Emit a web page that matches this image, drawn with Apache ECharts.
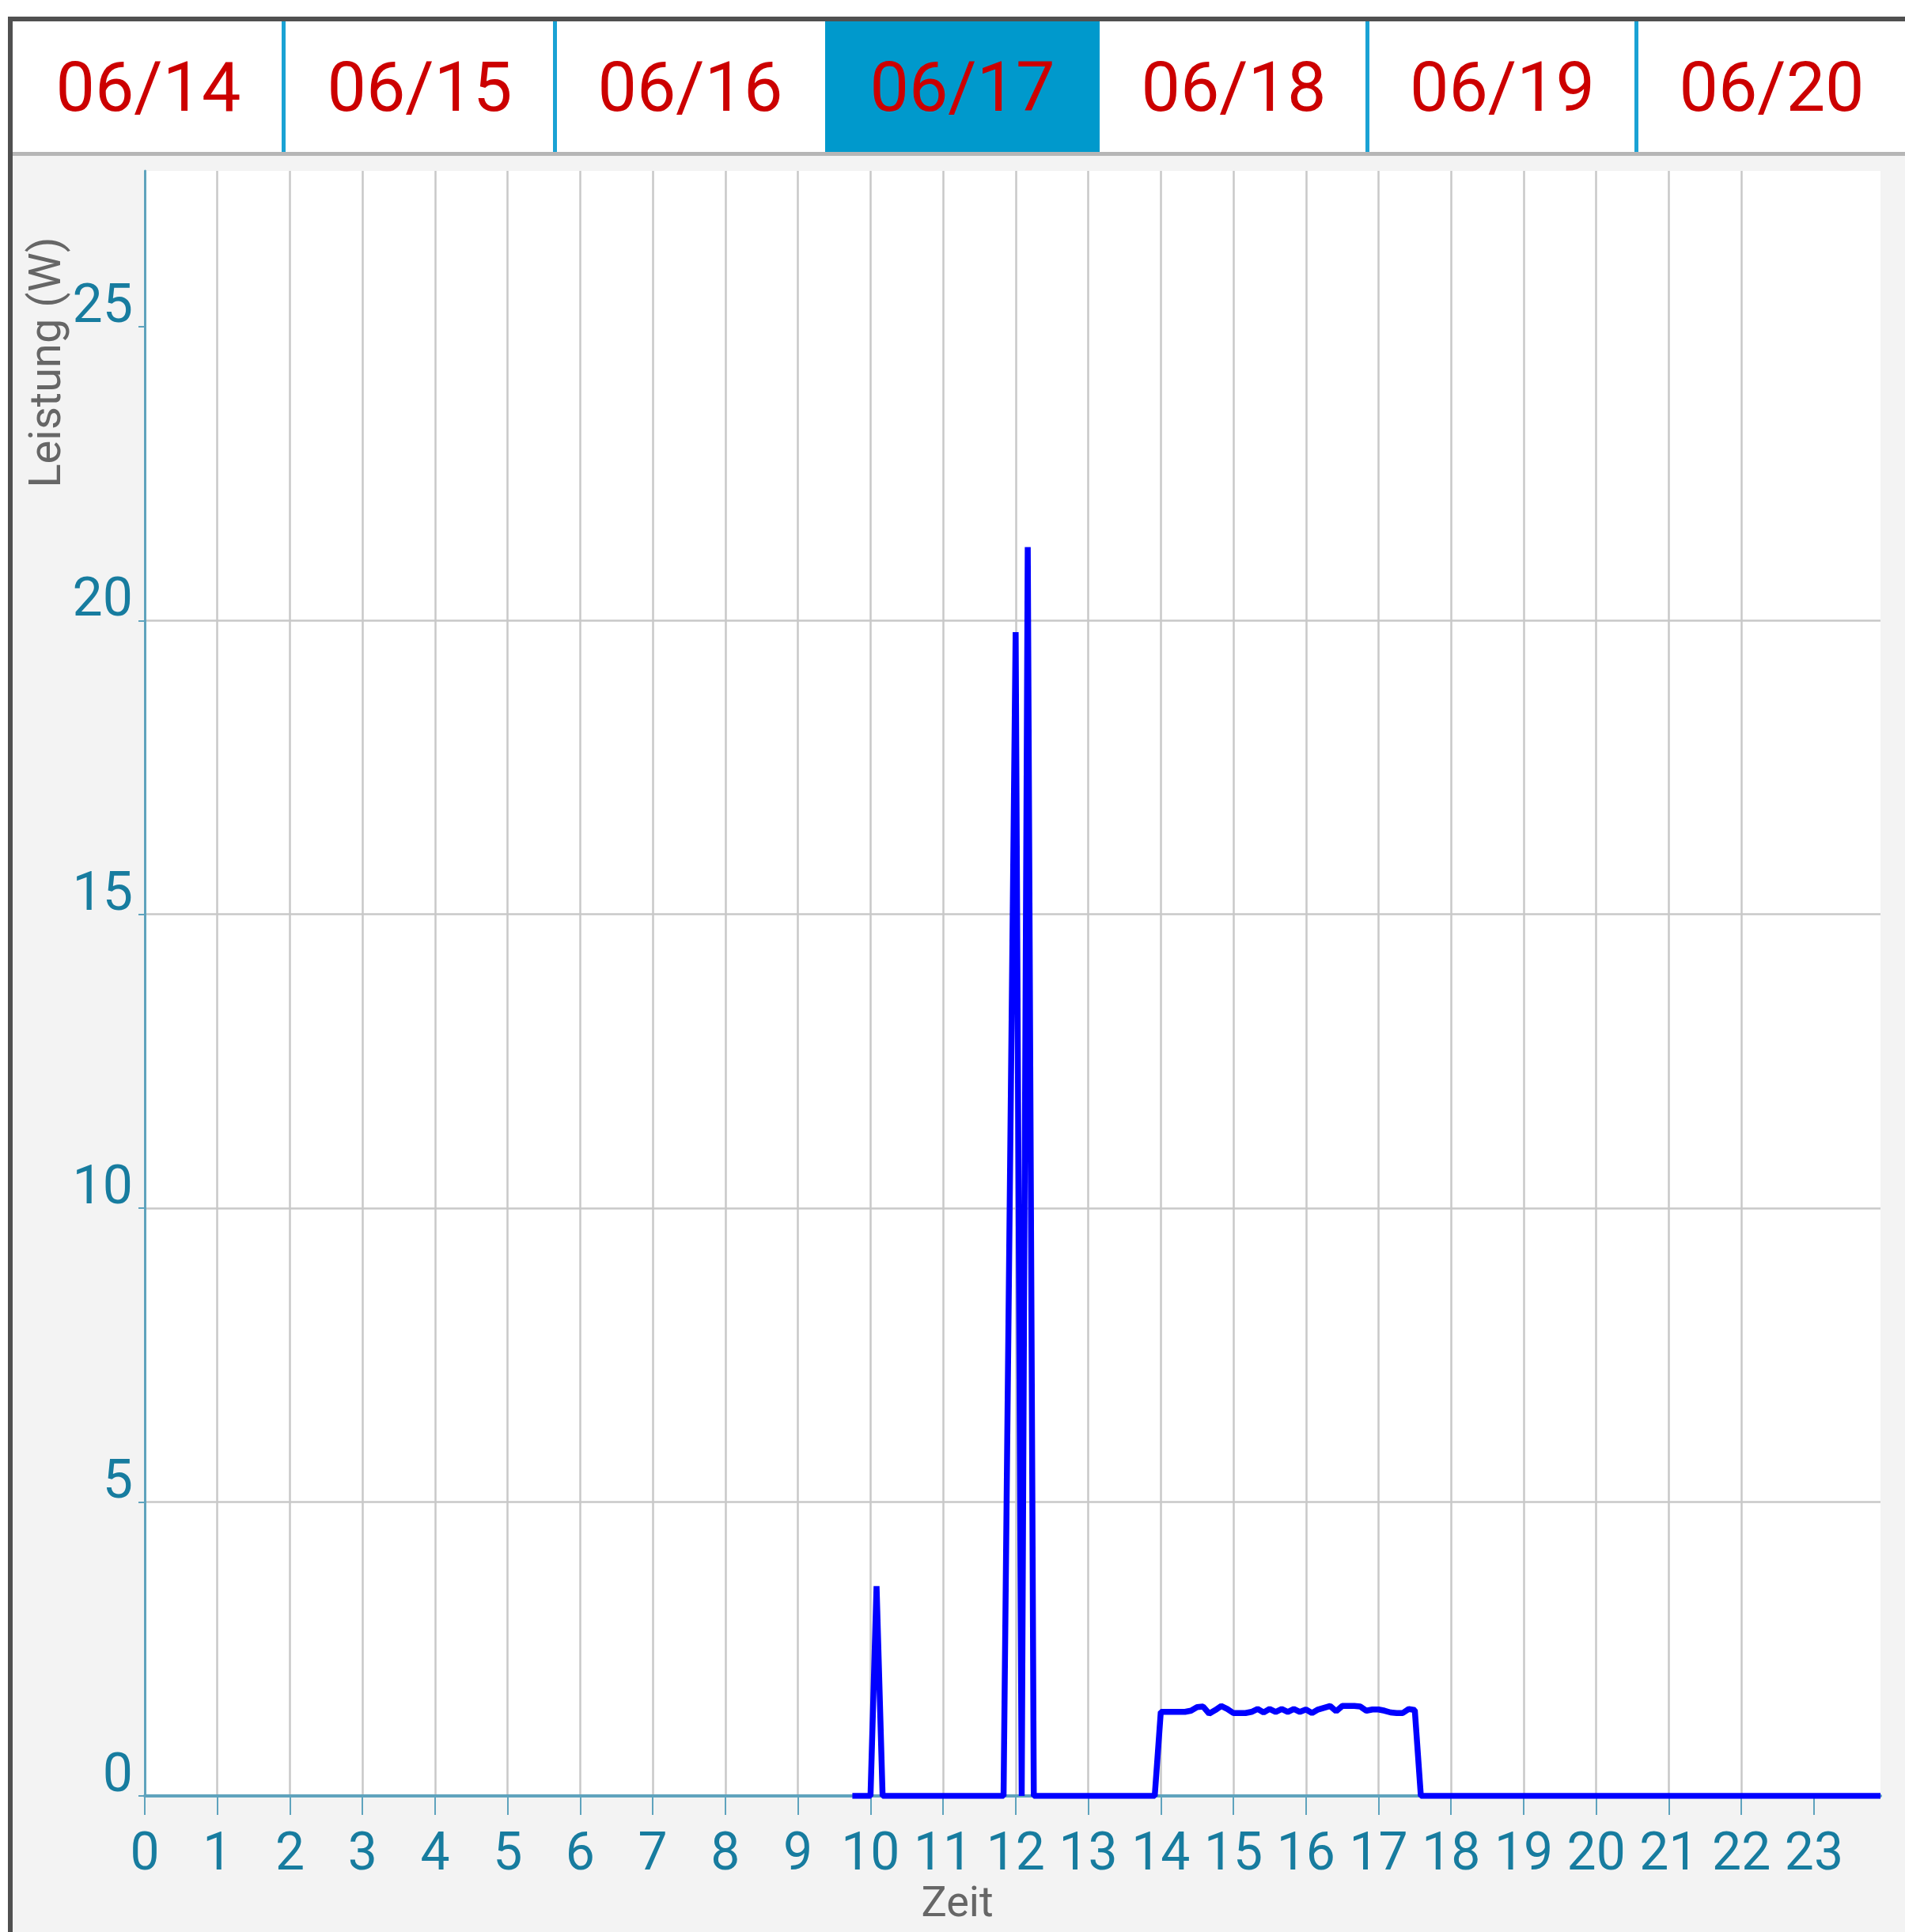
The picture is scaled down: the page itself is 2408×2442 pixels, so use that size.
<!DOCTYPE html>
<html lang="de">
<head>
<meta charset="UTF-8">
<title>Leistung</title>
<script src="https://cdn.jsdelivr.net/npm/echarts@6/dist/echarts.min.js"></script>
<style>
    body{margin:0;padding:0;background:#fff;width:2408px;height:2442px;overflow:hidden;position:relative;font-family:Roboto,sans-serif;}
    .frame{position:absolute;left:10px;top:21px;width:2500px;height:2500px;border-left:6px solid #505050;border-top:6px solid #505050;}
    .tab{position:absolute;top:27px;height:165px;line-height:165px;text-align:center;color:#cc0000;font-size:88px;background:#fff;}
    .tab.sel{background:#0099cc;}
    .sep{position:absolute;top:27px;height:165px;width:5px;background:#1aa2d4;}
    .under{position:absolute;left:16px;top:192px;width:2400px;height:5px;background:#b6b6b6;}
    #main{position:absolute;left:16px;top:197px;width:2392px;height:2245px;background:#f3f3f3;}
</style>
</head>
<body>
<div class="frame"></div>
<div id="tabs"></div>
<div class="under"></div>
<div id="main"></div>
<script>
// Tage oben, 06/17 ist gewaehlt
var days = ["06/14", "06/15", "06/16", "06/17", "06/18", "06/19", "06/20"];
var selectedDay = 3;

// Messpunkte (Uhrzeit, Watt)
var times = ["09:45", "10:00", "10:05", "10:10",
    "11:50", "12:00", "12:05", "12:10", "12:15",
    "13:55",
    "14:00", "14:05", "14:10", "14:15", "14:20", "14:25", "14:30", "14:35", "14:40", "14:45", "14:50", "14:55",
    "15:00", "15:05", "15:10", "15:15", "15:20", "15:25", "15:30", "15:35", "15:40", "15:45", "15:50", "15:55",
    "16:00", "16:05", "16:10", "16:15", "16:20", "16:25", "16:30", "16:35", "16:40", "16:45", "16:50", "16:55",
    "17:00", "17:05", "17:10", "17:15", "17:20", "17:25", "17:30",
    "17:35", "23:55"];
var watts = [0, 0, 3.57, 0,
    0, 19.8, 0, 21.25, 0,
    0,
    1.43, 1.43, 1.43, 1.43, 1.43, 1.45, 1.51, 1.52, 1.40, 1.46, 1.53, 1.48,
    1.41, 1.41, 1.41, 1.43, 1.48, 1.42, 1.48, 1.43, 1.48, 1.43, 1.48, 1.43,
    1.47, 1.41, 1.47, 1.50, 1.53, 1.44, 1.53, 1.53, 1.53, 1.52, 1.45, 1.47,
    1.47, 1.45, 1.42, 1.41, 1.41, 1.48, 1.46,
    0, 0];

var hourTicks = [0, 1, 2, 3, 4, 5, 6, 7, 8, 9, 10, 11, 12, 13, 14, 15, 16, 17, 18, 19, 20, 21, 22, 23];
var wattTicks = [0, 5, 10, 15, 20, 25];
var wattMax = 27.65;

// Tab-Leiste
var edges = [16, 359, 702, 1043, 1390, 1729, 2069, 2410];
var html = "";
for (var i = 0; i < days.length; i++) {
    html += '<div class="tab' + (i == selectedDay ? ' sel' : '') + '" style="left:' + edges[i] + 'px;width:' + (edges[i + 1] - edges[i]) + 'px">' + days[i] + '</div>';
}
for (var j = 1; j < days.length; j++) {
    if (j == selectedDay || j == selectedDay + 1) continue;
    html += '<div class="sep" style="left:' + (edges[j] - 3) + 'px"></div>';
}
document.getElementById("tabs").innerHTML = html;

function toHours(t) {
    var p = t.split(":");
    return parseInt(p[0], 10) + parseInt(p[1], 10) / 60;
}
var data = [];
for (var k = 0; k < times.length; k++) {
    data.push([toHours(times[k]), watts[k]]);
}

var axisColor = "#5fa3bd";
var labelColor = "#177c9f";

var myChart = echarts.init(document.getElementById("main"));
var option = {
    animation: false,
    grid: {
        left: 167, right: 31, top: 19, bottom: 172,
        containLabel: false,
        show: true, backgroundColor: "#ffffff", borderWidth: 0
    },
    xAxis: {
        type: "value",
        min: 0,
        max: toHours(times[times.length - 1]),
        interval: 1,
        axisLine: {lineStyle: {color: axisColor, width: 4}},
        axisTick: {show: true, length: 24, customValues: hourTicks, lineStyle: {color: axisColor, width: 2}},
        axisLabel: {customValues: hourTicks, color: labelColor, fontSize: 66, fontFamily: "Roboto", margin: 43},
        splitLine: {show: true, showMaxLine: false, lineStyle: {color: "#c8c8c8", width: 2.5}}
    },
    yAxis: {
        type: "value",
        min: 0,
        max: wattMax,
        interval: 5,
        axisLine: {show: true, lineStyle: {color: axisColor, width: 3}},
        axisTick: {show: true, length: 8, customValues: wattTicks, lineStyle: {color: axisColor, width: 2}},
        axisLabel: {customValues: wattTicks, color: labelColor, fontSize: 68, lineHeight: 46, fontFamily: "Roboto", margin: 15, verticalAlign: "bottom"},
        splitLine: {show: true, showMaxLine: false, lineStyle: {color: "#c8c8c8", width: 2.5}}
    },
    graphic: [
        {type: "text", x: 46, y: 261, rotation: Math.PI / 2,
         style: {text: "Leistung (W)", fill: "#666666", fontSize: 56, fontFamily: "Roboto", align: "center", verticalAlign: "middle"}},
        {type: "text", x: 1194, y: 2211,
         style: {text: "Zeit", fill: "#666666", fontSize: 54, fontFamily: "Roboto", align: "center", verticalAlign: "middle"}}
    ],
    series: [{
        type: "line",
        data: data,
        showSymbol: false,
        lineStyle: {color: "#0000ff", width: 7.5}
    }]
};
myChart.setOption(option);
</script>
</body>
</html>
